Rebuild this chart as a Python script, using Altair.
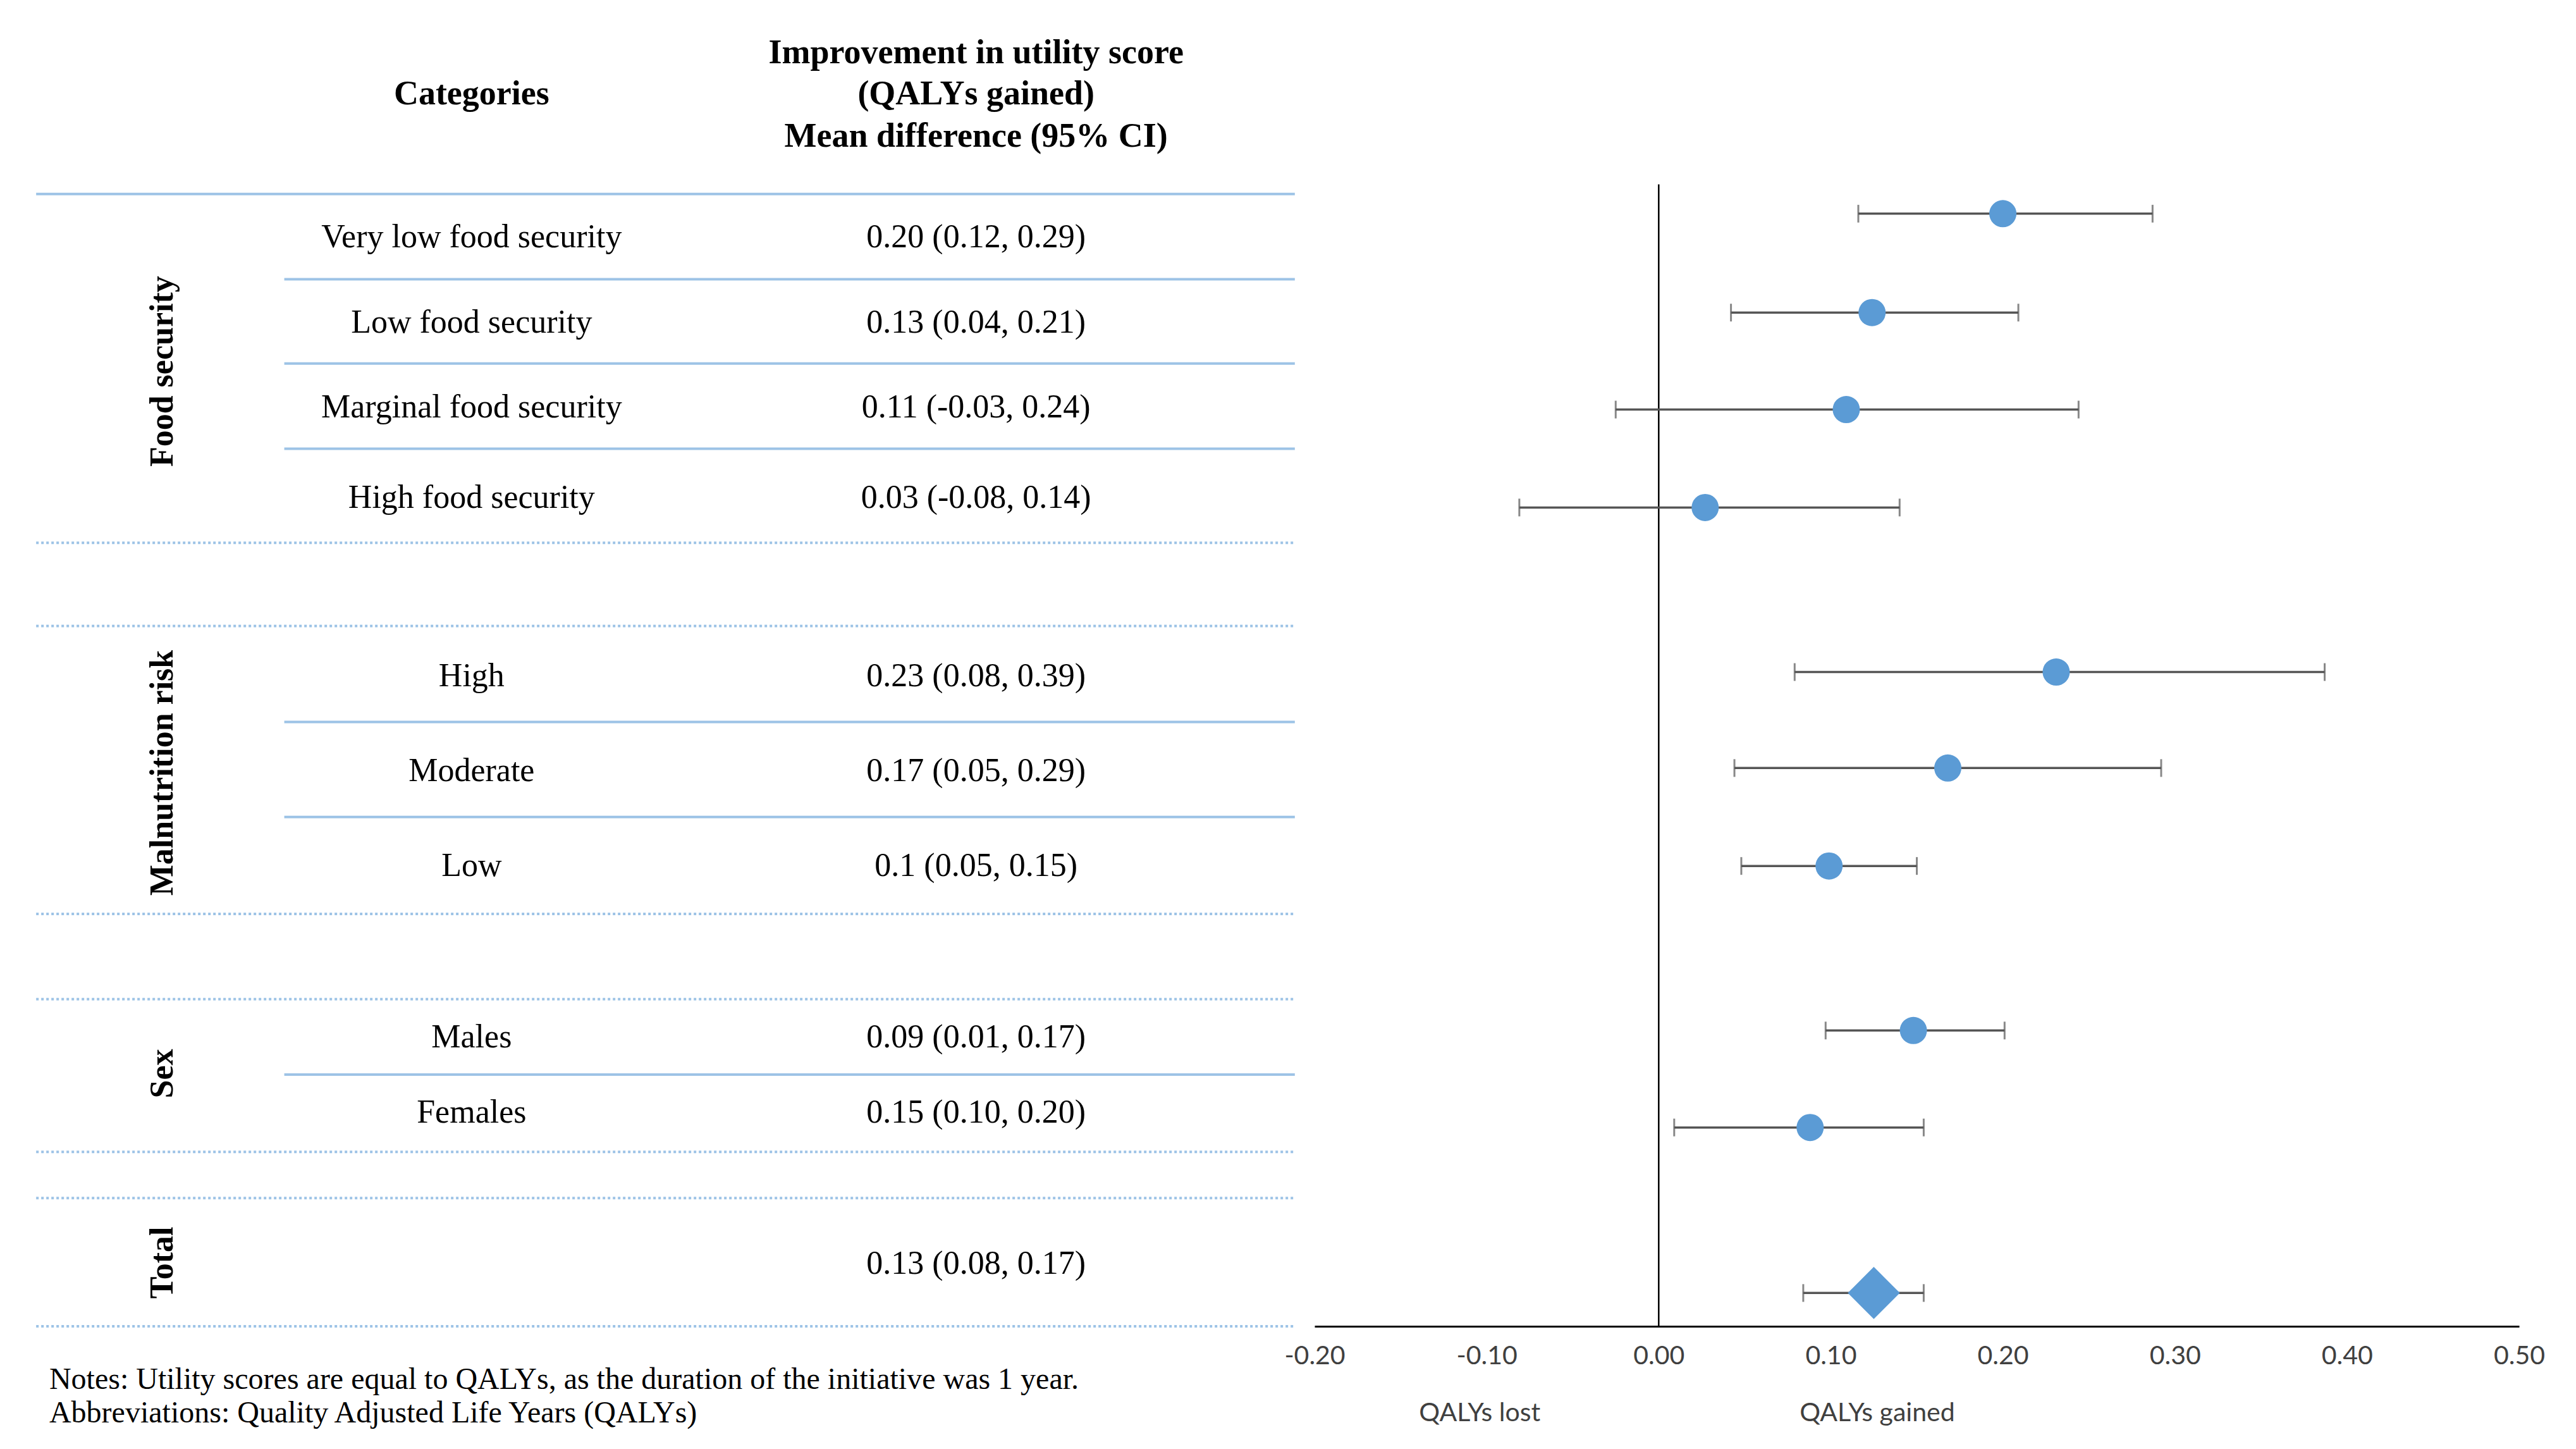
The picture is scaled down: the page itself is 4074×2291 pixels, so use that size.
import altair as alt
import pandas as pd

# ---------------- content ----------------
header_left = "Categories"
header_right = ["Improvement in utility score", "(QALYs gained)", "Mean difference (95% CI)"]
groups = ["Food security", "Malnutrition  risk", "Sex", "Total"]
categories = ["Very low  food security", "Low food security", "Marginal food security",
              "High food security", "High", "Moderate", "Low", "Males", "Females", ""]
estimate_text = ["0.20 (0.12, 0.29)", "0.13 (0.04, 0.21)", "0.11 (-0.03, 0.24)",
                 "0.03 (-0.08, 0.14)", "0.23 (0.08, 0.39)", "0.17 (0.05, 0.29)",
                 "0.1 (0.05, 0.15)", "0.09 (0.01, 0.17)", "0.15 (0.10, 0.20)",
                 "0.13 (0.08, 0.17)"]
notes = ["Notes: Utility  scores are equal to QALYs,  as the duration of the initiative  was 1 year.",
         "Abbreviations: Quality Adjusted Life  Years  (QALYs)"]

# plotted values (as drawn in the forest plot)
plot_mean = [0.200, 0.124, 0.109, 0.027, 0.231, 0.168, 0.099, 0.148, 0.088, 0.125]
plot_lo = [0.116, 0.042, -0.025, -0.081, 0.079, 0.044, 0.048, 0.097, 0.009, 0.084]
plot_hi = [0.287, 0.209, 0.244, 0.140, 0.387, 0.292, 0.150, 0.201, 0.154, 0.154]
is_total = [False] * 9 + [True]
x_ticks = [-0.2, -0.1, 0.0, 0.1, 0.2, 0.3, 0.4, 0.5]
side_labels = ["QALYs lost", "QALYs gained"]
side_label_x = [-0.104, 0.127]

# ---------------- layout slots (row units) ----------------
table_row_y = [11.12, 10.25, 9.38, 8.46, 6.64, 5.67, 4.70, 2.95, 2.18, 0.64]
plot_row_y = [11.36, 10.35, 9.36, 8.36, 6.68, 5.70, 4.70, 3.02, 2.03, 0.34]
group_y = [9.75, 5.65, 2.58, 0.65]
header_right_y = [13.0, 12.58, 12.15]
header_left_y = 12.58
solid_full_y = [11.56]
solid_part_y = [10.69, 9.83, 8.96, 6.17, 5.20, 2.57]
dotted_y = [8.0, 7.15, 4.21, 3.34, 1.78, 1.31, 0.0]
notes_y = [-0.55, -0.89]
zero_line_top = 11.66
side_label_y = -0.89

# column anchors of the table (table units)
COL_GROUP, COL_CAT, COL_EST, COL_NOTE = 99, 287, 594, 30
LINE_L, LINE_PART_L, LINE_R = 22, 173, 788

Y_MAX = 13.49
H = 2089
W_LEFT = 2071
W_RIGHT = 1905

ys = alt.Scale(domain=[0, Y_MAX], nice=False, zero=False)
xs_left = alt.Scale(domain=[3.08, 800], nice=False, zero=False)
xs_right = alt.Scale(domain=[-0.2, 0.5], nice=False, zero=False)

SERIF = "Liberation Serif"
LINE_COLOR = "#9DC3E6"

# ---------------- table panel ----------------
lines = pd.DataFrame(
    [{"x": LINE_L, "x2": LINE_R, "y": v, "kind": "solid"} for v in solid_full_y]
    + [{"x": LINE_PART_L, "x2": LINE_R, "y": v, "kind": "solid"} for v in solid_part_y]
    + [{"x": LINE_L, "x2": LINE_R, "y": v, "kind": "dotted"} for v in dotted_y]
)

X_L = lambda: alt.X("x:Q", scale=xs_left, axis=None)
Y_L = lambda: alt.Y("y:Q", scale=ys, axis=None)

solid = alt.Chart(lines[lines.kind == "solid"]).mark_rule(
    color=LINE_COLOR, strokeWidth=4).encode(x=X_L(), x2="x2:Q", y=Y_L())
dotted = alt.Chart(lines[lines.kind == "dotted"]).mark_rule(
    color=LINE_COLOR, strokeWidth=4, strokeDash=[4, 4]).encode(x=X_L(), x2="x2:Q", y=Y_L())

headers = pd.DataFrame(
    [{"x": COL_CAT, "y": header_left_y, "t": header_left}]
    + [{"x": COL_EST, "y": yy, "t": tt} for yy, tt in zip(header_right_y, header_right)]
)
header_text = alt.Chart(headers).mark_text(
    font=SERIF, fontSize=54, fontWeight="bold", color="black", baseline="middle", align="center"
).encode(x=X_L(), y=Y_L(), text="t:N")

rows = pd.DataFrame({
    "cat": categories, "est": estimate_text, "y": table_row_y,
    "xc": [COL_CAT] * len(categories), "xe": [COL_EST] * len(categories)})
cat_text = alt.Chart(rows).mark_text(
    font=SERIF, fontSize=52, color="black", baseline="middle", align="center"
).encode(x=alt.X("xc:Q", scale=xs_left, axis=None), y=Y_L(), text="cat:N")
est_text = alt.Chart(rows).mark_text(
    font=SERIF, fontSize=52, color="black", baseline="middle", align="center"
).encode(x=alt.X("xe:Q", scale=xs_left, axis=None), y=Y_L(), text="est:N")

grp = pd.DataFrame({"g": groups, "y": group_y, "x": [COL_GROUP] * len(groups)})
grp_text = alt.Chart(grp).mark_text(
    font=SERIF, fontSize=52, fontWeight="bold", color="black", angle=270,
    baseline="middle", align="center"
).encode(x=X_L(), y=Y_L(), text="g:N")

nt = pd.DataFrame({"t": notes, "y": notes_y, "x": [COL_NOTE] * len(notes)})
note_text = alt.Chart(nt).mark_text(
    font=SERIF, fontSize=48, color="black", baseline="middle", align="left"
).encode(x=X_L(), y=Y_L(), text="t:N")

table = alt.layer(solid, dotted, header_text, cat_text, est_text, grp_text, note_text).properties(
    width=W_LEFT, height=H)

# ---------------- forest plot panel ----------------
fp = pd.DataFrame({"mean": plot_mean, "lo": plot_lo, "hi": plot_hi,
                   "y": plot_row_y, "total": is_total})

Y_R = lambda: alt.Y("y:Q", scale=ys, axis=None)

zero_df = pd.DataFrame({"x": [0.0], "y": [0.0], "y2": [zero_line_top]})
zero_line = alt.Chart(zero_df).mark_rule(color="black", strokeWidth=2.5).encode(
    x=alt.X("x:Q", scale=xs_right,
            axis=alt.Axis(values=x_ticks, title=None, grid=False, ticks=False,
                          labelExpr="replace(format(datum.value, '.2f'), '\u2212', '-')",
                          labelFlush=False, labelFont="Lato", labelFontSize=41,
                          labelColor="#404040", labelPadding=27, domainColor="black",
                          domainWidth=3)),
    y=Y_R(), y2="y2:Q")

ci = alt.Chart(fp).mark_rule(color="#555555", strokeWidth=3.5).encode(
    x=alt.X("lo:Q", scale=xs_right), x2="hi:Q", y=Y_R())
cap_lo = alt.Chart(fp).mark_tick(color="#555555", orient="vertical", size=28, thickness=3).encode(
    x=alt.X("lo:Q", scale=xs_right), y=Y_R())
cap_hi = alt.Chart(fp).mark_tick(color="#555555", orient="vertical", size=28, thickness=3).encode(
    x=alt.X("hi:Q", scale=xs_right), y=Y_R())

pts = alt.Chart(fp[~fp.total]).mark_point(
    shape="circle", filled=True, size=1850, color="#5B9BD5", opacity=1).encode(
    x=alt.X("mean:Q", scale=xs_right), y=Y_R())
dia = alt.Chart(fp[fp.total]).mark_point(
    shape="diamond", filled=True, size=6800, color="#5B9BD5", opacity=1).encode(
    x=alt.X("mean:Q", scale=xs_right), y=Y_R())

sl = pd.DataFrame({"t": side_labels, "x": side_label_x, "y": [side_label_y] * 2})
side_text = alt.Chart(sl).mark_text(
    font="Lato", fontSize=41, color="#404040", baseline="middle", align="center").encode(
    x=alt.X("x:Q", scale=xs_right), y=Y_R(), text="t:N")

forest = alt.layer(zero_line, ci, cap_lo, cap_hi, pts, dia, side_text).properties(
    width=W_RIGHT, height=H)

chart = alt.hconcat(table, forest, spacing=0, bounds="flush").properties(
    padding=0, background="white"
).configure_view(stroke=None)

chart.save("out.html", embed_options={"renderer": "svg", "actions": False})
